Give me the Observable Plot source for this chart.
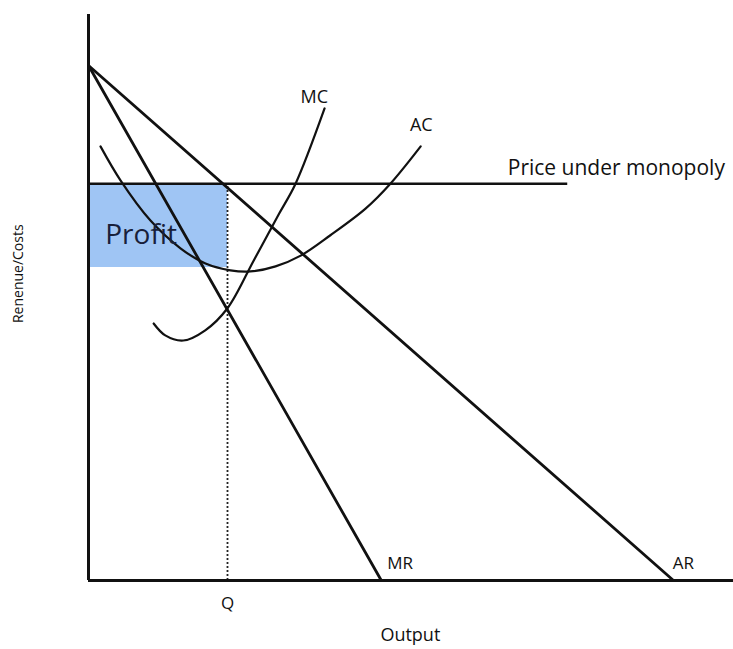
<!DOCTYPE html>
<html>
<head>
<meta charset="utf-8">
<script src="https://cdn.jsdelivr.net/npm/d3@7"></script>
<script src="https://cdn.jsdelivr.net/npm/@observablehq/plot@0.6"></script>
<style>
  html, body { margin: 0; padding: 0; background: #fff; }
  svg { display: block; }
</style>
</head>
<body>
<div id="chart"></div>
<script>
// Demand (AR) and marginal revenue (MR) lines: [output, revenue]
const arLine = [{x: 0, y: 91}, {x: 90.7, y: 0}];
const mrLine = [{x: 0, y: 91}, {x: 45.4, y: 0}];

// Marginal cost curve
const mcX = [10.1, 11.9, 14.7, 18.1, 21.55, 25.6, 29.5, 32.1, 36.6];
const mcY = [45.4, 43.3, 42.4, 44.2, 48.1, 56.5, 64.7, 70.1, 83.4];

// Average cost curve
const acX = [1.86, 4.96, 9.61, 14.26, 18.14, 22.0, 25.1, 29.0, 32.9, 37.5, 42.95, 46.8, 51.5];
const acY = [76.7, 70.7, 63.6, 58.7, 56.0, 54.8, 54.6, 55.5, 57.4, 61.0, 65.7, 70.1, 76.7];

// Key values
const price = 70.1;        // price under monopoly
const priceLineEnd = 74.3; // horizontal extent of price line
const qOut = 21.55;        // profit-maximising output Q
const acAtQ = 55.3;        // average cost at Q

// Labels
const labels = [
  {text: "MC", x: 35.0, y: 85.3, anchor: "middle", size: 18},
  {text: "AC", x: 51.6, y: 80.4, anchor: "middle", size: 18},
  {text: "Price under monopoly", x: 65.0, y: 72.8, anchor: "start", size: 21},
  {text: "MR", x: 46.3, y: 3.0, anchor: "start", size: 17},
  {text: "AR", x: 90.6, y: 3.0, anchor: "start", size: 17},
  {text: "Q", x: 21.55, y: -4.1, anchor: "middle", size: 17},
  {text: "Output", x: 49.9, y: -9.7, anchor: "middle", size: 18}
];

const mc = mcX.map((x, i) => ({x, y: mcY[i]}));
const ac = acX.map((x, i) => ({x, y: acY[i]}));

const font = "'Open Sans', 'DejaVu Sans', sans-serif";

const chart = Plot.plot({
  width: 733,
  height: 649,
  marginLeft: 88,
  marginRight: 0,
  marginTop: 14,
  marginBottom: 69,
  style: {fontFamily: font, background: "#fff", color: "#000"},
  x: {domain: [0, 100], axis: null},
  y: {domain: [0, 100], axis: null},
  marks: [
    Plot.rect([{x1: 0, x2: qOut, y1: acAtQ, y2: price}], {x1: "x1", x2: "x2", y1: "y1", y2: "y2", fill: "#9fc5f4"}),
    Plot.ruleX([qOut], {y1: 0, y2: price, stroke: "#222", strokeWidth: 1.8, strokeDasharray: "2,2"}),
    Plot.ruleY([price], {x1: 0, x2: priceLineEnd, stroke: "#111", strokeWidth: 2.6}),
    Plot.line(arLine, {x: "x", y: "y", stroke: "#111", strokeWidth: 2.8}),
    Plot.line(mrLine, {x: "x", y: "y", stroke: "#111", strokeWidth: 2.8}),
    Plot.line(mc, {x: "x", y: "y", curve: "catmull-rom", stroke: "#111", strokeWidth: 2.2}),
    Plot.line(ac, {x: "x", y: "y", curve: "catmull-rom", stroke: "#111", strokeWidth: 2.2}),
    Plot.ruleX([0], {y1: 0, y2: 100, stroke: "#111", strokeWidth: 3}),
    Plot.ruleY([0], {x1: 0, x2: 100, stroke: "#111", strokeWidth: 3}),
    Plot.text(["Profit"], {x: 2.6, y: 61.0, text: d => d, textAnchor: "start", fontSize: 28, fill: "#18203a"}),
    Plot.text(labels.filter(d => d.anchor === "start"), {x: "x", y: "y", text: "text", textAnchor: "start", fontSize: d => d.size, fill: "#111"}),
    Plot.text(labels.filter(d => d.anchor === "middle"), {x: "x", y: "y", text: "text", textAnchor: "middle", fontSize: d => d.size, fill: "#111"}),
    Plot.text(["Renenue/Costs"], {x: -10.85, y: 54.2, text: d => d, rotate: -90, fontSize: 14, fill: "#111"})
  ]
});

document.getElementById("chart").appendChild(chart);
</script>
</body>
</html>
